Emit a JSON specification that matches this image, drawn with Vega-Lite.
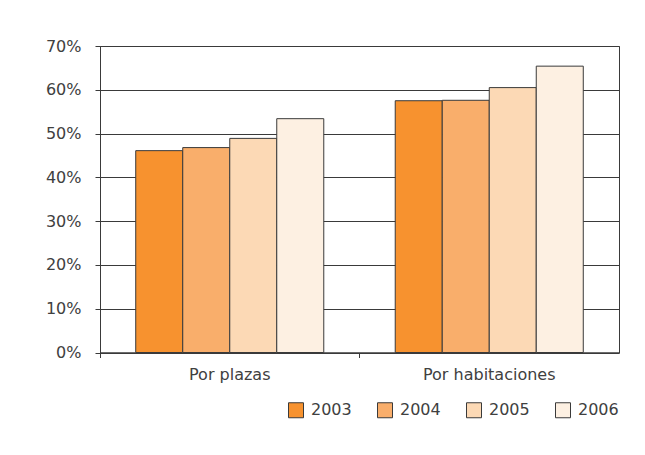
{
  "$schema": "https://vega.github.io/schema/vega-lite/v6.json",
  "width": 519,
  "height": 306.5,
  "autosize": {"type": "none"},
  "padding": {"left": 100, "top": 46, "right": 26, "bottom": 102.5},
  "background": "white",
  "data": {
    "values": [
      {"categoria": "Por plazas", "año": "2003", "valor": 0.461},
      {"categoria": "Por plazas", "año": "2004", "valor": 0.468},
      {"categoria": "Por plazas", "año": "2005", "valor": 0.489},
      {"categoria": "Por plazas", "año": "2006", "valor": 0.534},
      {"categoria": "Por habitaciones", "año": "2003", "valor": 0.575},
      {"categoria": "Por habitaciones", "año": "2004", "valor": 0.576},
      {"categoria": "Por habitaciones", "año": "2005", "valor": 0.605},
      {"categoria": "Por habitaciones", "año": "2006", "valor": 0.654}
    ]
  },
  "mark": {"type": "bar", "stroke": "#3a3a3a", "strokeWidth": 1},
  "encoding": {
    "x": {
      "field": "categoria",
      "type": "nominal",
      "sort": ["Por plazas", "Por habitaciones"],
      "scale": {"paddingInner": 0, "paddingOuter": 0},
      "axis": {
        "title": null,
        "labelAngle": 0,
        "bandPosition": 0,
        "labelAlign": "center",
        "labelPadding": 9,
        "tickSize": 5,
        "tickColor": "#3a3a3a",
        "domainColor": "#3a3a3a",
        "grid": false
      }
    },
    "xOffset": {
      "field": "año",
      "type": "nominal",
      "scale": {"paddingInner": 0, "paddingOuter": 0.76}
    },
    "y": {
      "field": "valor",
      "type": "quantitative",
      "scale": {"domain": [0, 0.7], "nice": false},
      "axis": {
        "title": null,
        "format": ".0%",
        "values": [0, 0.1, 0.2, 0.3, 0.4, 0.5, 0.6, 0.7],
        "labelOverlap": false,
        "tickSize": 5,
        "labelPadding": 14,
        "tickColor": "#3a3a3a",
        "domainColor": "#3a3a3a",
        "gridColor": "#3a3a3a",
        "gridOpacity": 1
      }
    },
    "color": {
      "field": "año",
      "type": "nominal",
      "scale": {"range": ["#f7922f", "#f9ae6b", "#fcd9b5", "#fdf0e2"]},
      "legend": {
        "title": null,
        "orient": "none",
        "direction": "horizontal",
        "legendX": 188,
        "legendY": 356,
        "padding": 0,
        "symbolType": "square",
        "symbolSize": 225,
        "symbolStrokeColor": "#3a3a3a",
        "symbolStrokeWidth": 1,
        "symbolOpacity": 1,
        "labelOffset": 7,
        "columnPadding": 23,
        "labelFontSize": 16,
        "labelFont": "DejaVu Sans",
        "labelColor": "#404040"
      }
    }
  },
  "config": {
    "view": {"stroke": "#3a3a3a", "strokeWidth": 1},
    "axis": {
      "labelFont": "DejaVu Sans",
      "labelFontSize": 16,
      "labelColor": "#404040",
      "domainWidth": 1,
      "tickWidth": 1,
      "gridWidth": 1
    }
  }
}
